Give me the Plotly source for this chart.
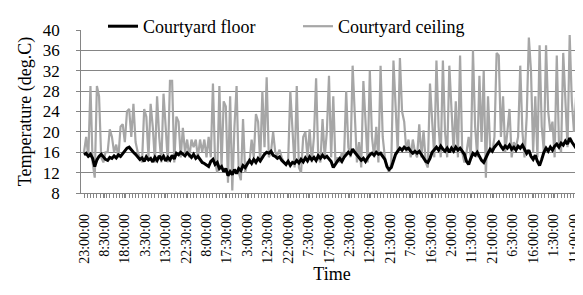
import plotly.graph_objects as go

# Hourly readings starting at 23:00:00 (hour index 0)
tick_labels = ["23:00:00", "8:30:00", "18:00:00", "3:30:00", "13:00:00", "22:30:00",
               "8:00:00", "17:30:00", "3:00:00", "12:30:00", "22:00:00", "7:30:00",
               "17:00:00", "2:30:00", "12:00:00", "21:30:00", "7:00:00", "16:30:00",
               "2:00:00", "11:30:00", "21:00:00", "6:30:00", "16:00:00", "1:30:00",
               "11:00:00"]
label_step_hours = 9.5

courtyard_floor = [
    15.5, 15.8, 15.2, 15.6, 14.8, 13.2, 14.5, 15.2, 15.6, 15.0,
    14.6, 14.4, 15.0, 14.8, 15.3, 14.9, 15.5, 15.2, 15.8, 16.2,
    16.8, 17.0, 16.4, 16.0, 15.6, 15.0, 14.6, 14.9, 14.2, 15.1,
    14.5, 14.8, 14.1, 15.0, 14.4, 15.3, 14.6, 15.2, 14.3, 15.0,
    14.5, 15.4, 14.7, 15.8, 15.5, 16.0, 15.7, 15.3, 15.9, 15.5,
    15.0, 15.6, 14.8, 15.2, 14.5, 14.0, 13.8, 13.5, 13.2,
    14.2, 14.6, 13.6, 14.0, 12.8, 13.2, 12.2, 12.8, 11.4, 12.2,
    11.6, 12.6, 11.8, 12.8, 12.4, 13.4, 13.0, 13.8, 14.4, 13.8,
    14.6, 14.0, 14.8, 14.3, 15.0, 15.6, 16.0, 15.8, 16.2, 15.4,
    15.2, 14.8, 15.1, 14.4, 14.0, 13.6, 14.2, 13.4, 14.0, 13.8,
    14.4, 13.9, 14.6, 14.1, 14.9, 14.3, 15.1, 14.5, 15.0, 14.4,
    15.3, 14.8, 15.4, 14.9, 15.2, 14.6, 14.2, 13.0, 13.8,
    14.3, 14.8, 14.2, 15.0, 15.5, 16.0, 15.6, 16.6, 16.0, 15.4,
    14.8, 14.4, 14.8, 14.2, 14.9, 15.5, 15.8, 15.4, 16.0, 15.6,
    15.8, 15.2, 14.6, 13.2, 12.6, 13.0, 14.4, 15.6, 16.2, 16.8,
    16.4, 17.0, 16.6, 16.8, 16.2, 15.8, 16.2, 15.8, 16.2, 15.6,
    15.0, 14.2, 14.0, 14.8, 16.0, 16.6, 17.0, 16.4, 17.2, 16.6,
    16.2, 16.8, 16.0, 16.8, 16.2, 17.0, 16.4, 16.8, 16.2,
    15.6, 14.2, 13.6, 14.8, 15.8, 15.4, 16.0, 15.2, 14.4, 14.0,
    15.0, 15.8, 16.6, 16.2, 17.0, 17.6, 18.0, 17.2, 16.6, 17.2,
    16.8, 17.4, 16.6, 17.0, 16.4, 17.2, 16.8, 17.4, 16.6, 15.8,
    16.4, 15.2, 14.6, 15.4, 14.2, 13.4, 14.6, 16.0, 16.8, 16.2,
    17.0, 16.4, 17.2, 17.6, 17.0, 17.8, 17.4, 18.2, 17.6, 18.8,
    18.0, 17.4, 16.8, 17.6, 17.2, 17.8,
]

courtyard_ceiling = [
    16, 19, 15, 29, 14, 11, 29, 27, 15, 14,
    16, 16, 20.5, 19, 16, 17.5, 15, 21, 21.5, 18,
    24, 24.5, 19, 25.5, 18, 16, 15, 14, 24.5, 23,
    15, 25.5, 21, 14, 27, 19, 14, 27.5, 21, 14,
    30, 30, 14, 23, 22, 15, 20.8, 16, 18.5, 15,
    18.5, 17, 18.5, 15, 18.5, 16, 18.5, 15, 19,
    15, 29.5, 14, 12, 29, 13, 26, 25, 10, 27,
    8.5, 21, 29, 12, 10.5, 22.5, 12, 14, 14, 18.5,
    15, 23.5, 22, 14, 28, 17, 30.7, 15, 16, 20,
    16, 15.5, 16.5, 15, 14, 13.5, 14.5, 28, 19, 13,
    29, 13, 12, 19, 20, 15, 20.5, 14, 19, 30.5,
    15, 14, 22.5, 15, 20, 31, 15, 27, 14,
    15, 14, 16, 15, 28, 17, 15, 33, 24, 14,
    18, 13, 30, 21, 14, 32, 19, 15, 21, 14,
    33, 19, 15, 13, 12, 14, 34, 25, 16, 34.5,
    24, 22, 16, 18.5, 15, 18.5, 16, 15, 21.5, 15,
    20.3, 14, 13, 29.5, 21, 15, 34, 21, 15, 34,
    20, 15, 33, 24, 16, 26, 15, 35, 16,
    14, 16, 19, 15, 36, 21, 15, 31, 18, 32,
    11, 27, 17, 16, 19, 35.5, 35, 19, 27, 16,
    20, 24.5, 15, 18, 17, 19, 33, 20, 15, 23,
    38.5, 32, 16, 27, 15, 37, 21, 16, 37, 24,
    20, 22, 15, 35, 18, 16, 35.5, 25, 17, 39,
    26, 20, 27, 18, 37, 38,
]

hours = list(range(len(courtyard_floor)))
tick_positions = [i * label_step_hours for i in range(len(tick_labels))]

grid = "#858585"
pad = "\u00a0\u00a0\u00a0"
fig = go.Figure()
fig.add_trace(go.Scatter(x=hours, y=courtyard_ceiling, mode="lines", name="Courtyard ceiling",
                         line=dict(color="#a6a6a6", width=2.2), legendrank=2))
fig.add_trace(go.Scatter(x=hours, y=courtyard_floor, mode="lines", name="Courtyard floor",
                         line=dict(color="black", width=3), legendrank=1))

# the page body adds an 8px offset, so margins are shifted 8px up/left
fig.update_layout(
    width=583, height=295,
    margin=dict(l=73, r=8, t=22, b=110, autoexpand=False),
    paper_bgcolor="white", plot_bgcolor="white",
    font=dict(family="Liberation Serif", color="black", size=17),
    legend=dict(orientation="h", xref="container", yref="container",
                x=95 / 583, y=1.0, xanchor="left", yanchor="top",
                font=dict(size=18), entrywidth=150, bgcolor="rgba(0,0,0,0)",
                tracegroupgap=0),
    xaxis=dict(range=[-1.4, 232.2], tickmode="array", tickvals=tick_positions,
               ticktext=[t + pad for t in tick_labels], tickangle=-90,
               tickfont=dict(size=14),
               ticks="outside", ticklen=4, tickcolor=grid,
               ticklabeloverflow="allow", automargin=False,
               showline=True, linecolor=grid, linewidth=1, showgrid=False, zeroline=False,
               minor=dict(ticks="outside", ticklen=4, tickcolor=grid, dtick=1.5, tick0=0,
                          showgrid=False),
               title=dict(text="Time", font=dict(size=18), standoff=3)),
    yaxis=dict(range=[8, 40], tickmode="linear", tick0=8, dtick=4, ticksuffix=pad,
               tickfont=dict(size=17), ticks="outside", ticklen=4, tickcolor=grid,
               showline=True, linecolor=grid, linewidth=1,
               showgrid=True, gridcolor=grid, gridwidth=1, zeroline=False, automargin=False,
               title=dict(text="Temperature (deg.C)", font=dict(size=18), standoff=6)),
)

fig.write_html("out.html")
